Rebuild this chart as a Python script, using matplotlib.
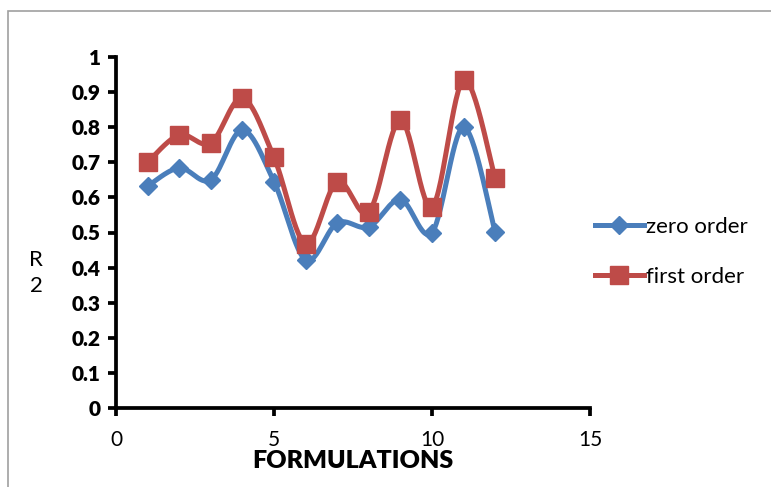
import numpy as np
import matplotlib.pyplot as plt
from matplotlib.lines import Line2D
from matplotlib.patches import Rectangle

# data
formulations = [1, 2, 3, 4, 5, 6, 7, 8, 9, 10, 11, 12]
zero_order = [0.632, 0.684, 0.650, 0.792, 0.645, 0.422, 0.527, 0.516, 0.594, 0.500, 0.800, 0.502]
first_order = [0.700, 0.778, 0.755, 0.883, 0.714, 0.468, 0.645, 0.558, 0.820, 0.573, 0.934, 0.655]

blue = '#4a7ebb'
red = '#be4b48'
font = 'Lato'


# Excel style smoothed line (Catmull-Rom curve through the points)
def smooth(x, y, n=30):
    x = np.asarray(x, float)
    y = np.asarray(y, float)
    px = np.concatenate([[x[0]], x, [x[-1]]])
    py = np.concatenate([[y[0]], y, [y[-1]]])
    xs, ys = [], []
    t = np.linspace(0, 1, n)
    for i in range(1, len(px) - 2):
        p0, p1, p2, p3 = (np.array([px[j], py[j]]) for j in range(i - 1, i + 3))
        c1 = p1 + (p2 - p0) / 6
        c2 = p2 - (p3 - p1) / 6
        pts = ((1 - t) ** 3)[:, None] * p1 + (3 * (1 - t) ** 2 * t)[:, None] * c1 \
            + (3 * (1 - t) * t ** 2)[:, None] * c2 + (t ** 3)[:, None] * p2
        xs.extend(pts[:, 0])
        ys.extend(pts[:, 1])
    return xs, ys


fig = plt.figure(figsize=(7.71, 4.87), dpi=100)
ax = fig.add_axes([116 / 771, 1 - 408 / 487, 474 / 771, 351 / 487])

# chart border (only left and top edges are inside the picture)
fig.patches.append(Rectangle((8 / 771, -0.5), 2, 1.5 - 11 / 487, transform=fig.transFigure,
                             fill=False, edgecolor='#a0a0a0', linewidth=1.2))

for vals, col, mk, ms in [(zero_order, blue, 'D', 9.5), (first_order, red, 's', 12.5)]:
    sx, sy = smooth(formulations, vals)
    ax.plot(sx, sy, color=col, linewidth=3.6, solid_capstyle='round')
    ax.plot(formulations, vals, linestyle='none', marker=mk, markersize=ms, color=col)

ax.set_xlim(0, 15)
ax.set_ylim(0, 1)
ax.set_xticks([0, 5, 10, 15])
ax.set_yticks(np.arange(0, 1.01, 0.1))
ax.set_yticklabels(['0'] + ['%.1f' % v for v in np.arange(0.1, 0.95, 0.1)] + ['1'],
                   fontfamily=font, fontweight='heavy', fontsize=15)
ax.set_xticklabels(['0', '5', '10', '15'], fontfamily=font, fontsize=15)

for s in ['top', 'right']:
    ax.spines[s].set_visible(False)
for s in ['left', 'bottom']:
    ax.spines[s].set_linewidth(2.7)
ax.tick_params(axis='both', width=2.7, length=6, direction='out')
ax.tick_params(axis='y', pad=5)
ax.tick_params(axis='x', pad=10)

ax.set_xlabel('FORMULATIONS', fontfamily=font, fontweight='heavy', fontsize=18, labelpad=0)
fig.text(36 / 771, 1 - 273 / 487, 'R\n2', fontfamily=font, fontsize=16,
         ha='center', va='center', linespacing=1.4)

handles = [Line2D([], [], color=blue, linewidth=3.6, marker='D', markersize=9.5),
           Line2D([], [], color=red, linewidth=3.6, marker='s', markersize=12.5)]
fig.legend(handles, ['zero order', 'first order'], loc='center left',
           bbox_to_anchor=(575 / 771, 1 - 252 / 487), frameon=False,
           prop={'family': font, 'size': 16}, handlelength=2.2, handletextpad=0.1,
           labelspacing=1.35)

fig.savefig('out.png', dpi=100)
